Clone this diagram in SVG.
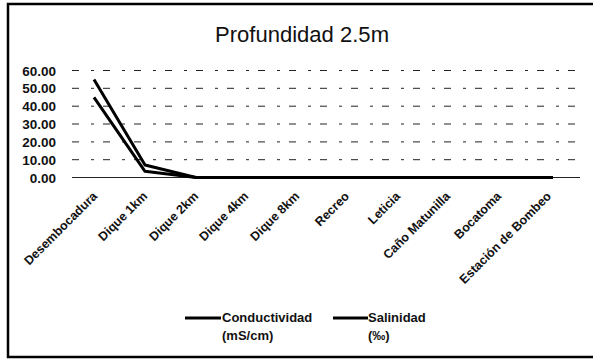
<svg xmlns="http://www.w3.org/2000/svg" width="593" height="360" viewBox="0 0 593 360">
<style>
.frame{fill:#fff;stroke:#000;stroke-width:2.5}
.grid{stroke:#222;stroke-width:1;stroke-dasharray:7 12 3 9}
.ylab{font-family:"Liberation Sans",Arial,sans-serif;font-weight:bold;font-size:13.5px;fill:#111;text-anchor:end}
.cat{font-family:"Liberation Sans",Arial,sans-serif;font-weight:bold;font-size:12.5px;fill:#111;text-anchor:end}
.leg{font-family:"Liberation Sans",Arial,sans-serif;font-weight:bold;font-size:13px;fill:#111}
.title{font-family:"Liberation Sans",Arial,sans-serif;font-size:21.5px;fill:#111}
.series{fill:none;stroke:#000;stroke-width:3;stroke-linejoin:round}
.legline{stroke:#000;stroke-width:3}
</style>
<rect x="0" y="0" width="593" height="360" fill="#fff"/>
<g id="chart-frame">
<rect class="frame" x="8" y="4" width="590" height="353"/>
</g>
<text id="title" class="title" x="215" y="42" textLength="174" lengthAdjust="spacingAndGlyphs">Profundidad 2.5m</text>
<g id="gridlines">
<line class="grid" x1="72" y1="70.5" x2="580" y2="70.5"/>
<line class="grid" x1="72" y1="88.3" x2="580" y2="88.3"/>
<line class="grid" x1="72" y1="106.2" x2="580" y2="106.2"/>
<line class="grid" x1="72" y1="124" x2="580" y2="124"/>
<line class="grid" x1="72" y1="141.9" x2="580" y2="141.9"/>
<line class="grid" x1="72" y1="159.7" x2="580" y2="159.7"/>
<line x1="72" y1="177.5" x2="580" y2="177.5" stroke="#222" stroke-width="1.2"/>
</g>
<g id="y-axis-labels">
<text class="ylab" x="56" y="75.5">60.00</text>
<text class="ylab" x="56" y="93.3">50.00</text>
<text class="ylab" x="56" y="111.2">40.00</text>
<text class="ylab" x="56" y="129">30.00</text>
<text class="ylab" x="56" y="146.9">20.00</text>
<text class="ylab" x="56" y="164.7">10.00</text>
<text class="ylab" x="56" y="182.5">0.00</text>
</g>
<g id="connectors">
<polyline id="series-conductividad" class="series" points="94,79.4 145,165 196,177.5 247,177.5 298,177.5 349,177.5 400,177.5 451,177.5 502,177.5 553,177.5"/>
<polyline id="series-salinidad" class="series" points="94,97.3 145,171.3 196,177.5 247,177.5 298,177.5 349,177.5 400,177.5 451,177.5 502,177.5 553,177.5"/>
</g>
<g id="category-labels">
<text class="cat" transform="translate(98,197) rotate(-45)">Desembocadura</text>
<text class="cat" transform="translate(148,197) rotate(-45)">Dique 1km</text>
<text class="cat" transform="translate(199,197) rotate(-45)">Dique 2km</text>
<text class="cat" transform="translate(249,197) rotate(-45)">Dique 4km</text>
<text class="cat" transform="translate(300,197) rotate(-45)">Dique 8km</text>
<text class="cat" transform="translate(350,197) rotate(-45)">Recreo</text>
<text class="cat" transform="translate(401,197) rotate(-45)">Leticia</text>
<text class="cat" transform="translate(451,197) rotate(-45)">Caño Matunilla</text>
<text class="cat" transform="translate(502,197) rotate(-45)">Bocatoma</text>
<text class="cat" transform="translate(552,197) rotate(-45)">Estación de Bombeo</text>
</g>
<g id="legend-conductividad">
<line class="legline" x1="185" y1="318" x2="221" y2="318"/>
<text class="leg" x="222" y="322">Conductividad</text>
<text class="leg" x="222" y="340">(mS/cm)</text>
</g>
<g id="legend-salinidad">
<line class="legline" x1="333" y1="318" x2="368" y2="318"/>
<text class="leg" x="368" y="322">Salinidad</text>
<text class="leg" x="368" y="340">(‰)</text>
</g>
</svg>
